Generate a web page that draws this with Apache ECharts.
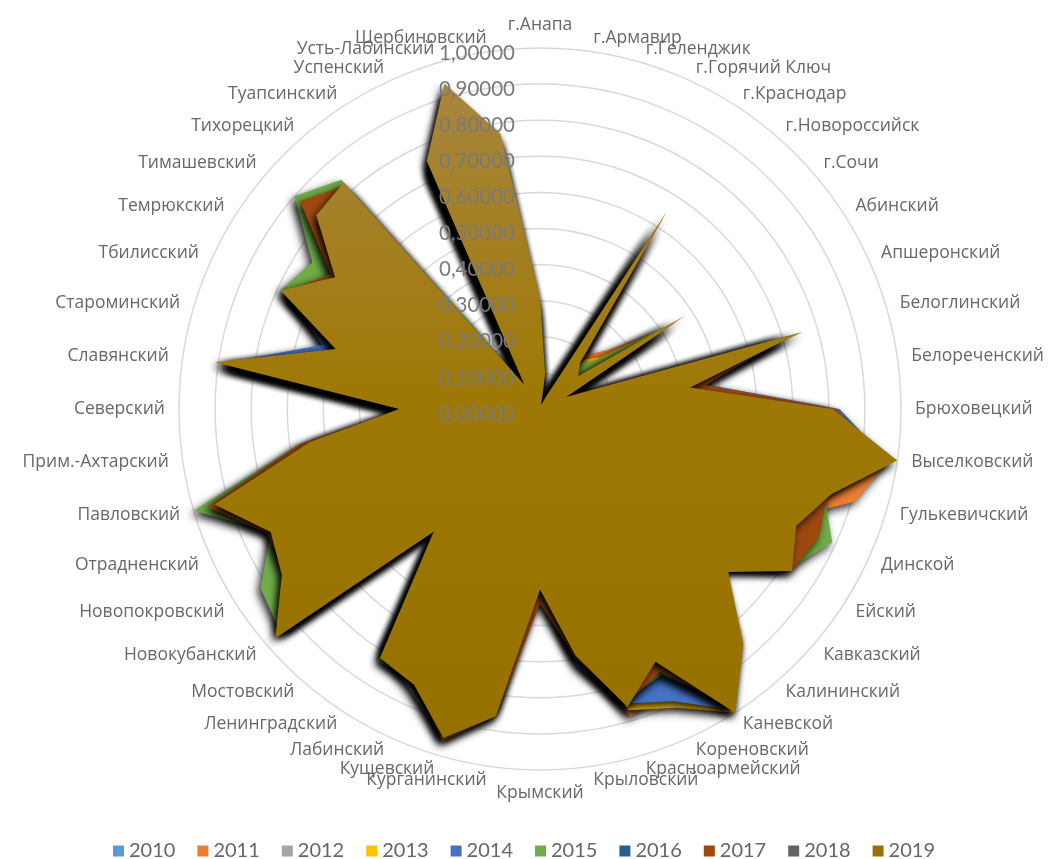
<!DOCTYPE html>
<html><head><meta charset="utf-8">
<script src="https://cdn.jsdelivr.net/npm/echarts@6/dist/echarts.min.js"></script>
<style>html,body{margin:0;padding:0;background:#fff}#c{width:1048px;height:859px}</style>
</head><body><div id="c"></div>
<script>
const categories = ['г.Анапа','г.Армавир','г.Геленджик','г.Горячий Ключ','г.Краснодар','г.Новороссийск','г.Сочи','Абинский','Апшеронский','Белоглинский','Белореченский','Брюховецкий','Выселковский','Гулькевичский','Динской','Ейский','Кавказский','Калининский','Каневской','Кореновский','Красноармейский','Крыловский','Крымский','Курганинский','Кущевский','Лабинский','Ленинградский','Мостовский','Новокубанский','Новопокровский','Отрадненский','Павловский','Прим.-Ахтарский','Северский','Славянский','Староминский','Тбилисский','Темрюкский','Тимашевский','Тихорецкий','Туапсинский','Успенский','Усть-Лабинский','Щербиновский'];
const years = ['2010','2011','2012','2013','2014','2015','2016','2017','2018','2019'];
const tickLabels = ['0,00000','0,10000','0,20000','0,30000','0,40000','0,50000','0,60000','0,70000','0,80000','0,90000','1,00000'];

const v2010 = [0.26,0.08,0.01,0.03,0.57,0.14,0.12,0.42,0.07,0.69,0.38,0.76,0.94,0.79,0.73,0.78,0.64,0.82,0.95,0.73,0.81,0.65,0.46,0.82,0.91,0.80,0.78,0.41,0.92,0.80,0.77,0.90,0.60,0.36,0.86,0.55,0.74,0.63,0.77,0.78,0.06,0.70,0.89,0.72];
const v2011 = [0.28,0.09,0.01,0.04,0.645,0.20,0.25,0.42,0.08,0.70,0.40,0.78,0.98,0.91,0.74,0.80,0.65,0.84,0.99,0.85,0.89,0.68,0.47,0.83,0.92,0.82,0.79,0.42,0.93,0.82,0.79,0.91,0.62,0.37,0.88,0.61,0.76,0.65,0.78,0.80,0.07,0.72,0.90,0.74];
const v2012 = [0.27,0.08,0.01,0.03,0.58,0.15,0.13,0.43,0.07,0.70,0.39,0.77,0.95,0.80,0.74,0.79,0.65,0.83,0.96,0.74,0.82,0.66,0.47,0.85,0.955,0.86,0.80,0.42,0.93,0.81,0.78,0.90,0.61,0.36,0.87,0.55,0.75,0.64,0.78,0.79,0.07,0.71,0.90,0.73];
const v2013 = [0.27,0.09,0.01,0.04,0.59,0.18,0.22,0.44,0.09,0.71,0.40,0.78,0.95,0.81,0.75,0.80,0.65,0.85,1.00,0.91,0.87,0.66,0.47,0.83,0.92,0.82,0.79,0.42,0.93,0.82,0.79,0.91,0.62,0.37,0.88,0.56,0.76,0.65,0.79,0.80,0.07,0.72,0.90,0.74];
const v2014 = [0.28,0.09,0.01,0.03,0.60,0.16,0.15,0.44,0.08,0.72,0.47,0.83,0.97,0.82,0.76,0.81,0.66,0.85,0.99,0.89,0.85,0.72,0.49,0.84,0.94,0.83,0.80,0.43,0.95,0.84,0.81,0.93,0.63,0.38,0.89,0.63,0.77,0.66,0.80,0.81,0.07,0.73,0.91,0.75];
const v2015 = [0.27,0.09,0.01,0.03,0.60,0.17,0.20,0.45,0.08,0.76,0.41,0.80,0.96,0.82,0.89,0.82,0.66,0.84,0.97,0.81,0.84,0.68,0.48,0.84,0.93,0.83,0.83,0.43,0.95,0.92,0.82,1.00,0.67,0.37,0.90,0.57,0.79,0.75,0.90,0.84,0.09,0.74,0.91,0.76];
const v2016 = [0.27,0.08,0.01,0.03,0.60,0.15,0.12,0.43,0.07,0.71,0.40,0.78,0.96,0.80,0.75,0.79,0.66,0.83,0.96,0.74,0.82,0.66,0.47,0.83,0.92,0.81,0.79,0.42,0.94,0.82,0.79,0.91,0.62,0.37,0.88,0.56,0.76,0.65,0.79,0.80,0.07,0.72,0.91,0.74];
const v2017 = [0.28,0.09,0.01,0.03,0.60,0.15,0.13,0.44,0.08,0.72,0.465,0.82,0.97,0.83,0.85,0.83,0.67,0.85,0.98,0.80,0.85,0.70,0.54,0.86,0.96,0.83,0.81,0.44,0.94,0.84,0.83,0.96,0.67,0.38,0.89,0.57,0.78,0.69,0.88,0.82,0.07,0.72,0.90,0.74];
const v2018 = [0.29,0.09,0.01,0.03,0.62,0.15,0.12,0.45,0.07,0.72,0.40,0.79,0.97,0.81,0.76,0.80,0.67,0.84,0.97,0.75,0.83,0.67,0.48,0.84,0.93,0.82,0.80,0.43,0.95,0.83,0.80,0.92,0.63,0.37,0.89,0.57,0.77,0.65,0.80,0.81,0.07,0.73,0.92,0.75];
const v2019 = [0.31,0.10,0.01,0.03,0.65,0.17,0.14,0.48,0.08,0.75,0.42,0.81,1.00,0.84,0.78,0.83,0.69,0.86,1.00,0.77,0.86,0.69,0.50,0.86,0.95,0.84,0.82,0.45,0.97,0.85,0.82,0.94,0.645,0.39,0.91,0.59,0.79,0.675,0.82,0.83,0.08,0.755,0.94,0.77];

const seriesValues = [v2010,v2011,v2012,v2013,v2014,v2015,v2016,v2017,v2018,v2019];
const colors = ['#5B9BD5','#ED7D31','#A5A5A5','#FFC000','#4472C4','#70AD47','#255E91','#9E480E','#636363','#997300'];

// ECharts radar runs counter-clockwise; reorder so categories run clockwise from the top
const order = [0];
for (let i = categories.length - 1; i >= 1; i--) order.push(i);
const reorder = arr => order.map(i => arr[i]);

const indicatorsBase = reorder(categories).map(n => ({ name: n, min: 0, max: 1 }));
const indicatorsLabels = reorder(categories).map((n, i) => i === 0
  ? { name: n, min: 0, max: 1, axisLabel: { show: true } }
  : { name: n, min: 0, max: 1 });

const chart = echarts.init(document.getElementById('c'));
const shadow = { shadowBlur: 9, shadowColor: 'rgba(0,0,0,0.85)', shadowOffsetX: -3, shadowOffsetY: 4 };

const series = years.map((y, k) => ({
  name: y,
  type: 'radar',
  radarIndex: 0,
  symbol: 'none',
  silent: true,
  color: colors[k],
  itemStyle: { color: colors[k] },
  lineStyle: { width: 0, opacity: 0 },
  areaStyle: Object.assign({
    opacity: 1,
    color: k === 9 ? new echarts.graphic.LinearGradient(0, 0, 0, 1, [
      { offset: 0, color: '#A8863E' },
      { offset: 0.45, color: '#9F7908' },
      { offset: 1, color: '#977100' }
    ]) : colors[k]
  }, shadow),
  data: [{ name: y, value: reorder(seriesValues[k]) }]
}));

chart.setOption({
  animation: false,
  backgroundColor: '#fff',
  legend: {
    data: years,
    top: 836,
    left: 'center',
    icon: 'rect',
    itemWidth: 11,
    itemHeight: 11,
    itemGap: 22,
    textStyle: { fontFamily: 'Lato', fontSize: 20, color: '#666' }
  },
  radar: [{
    center: [540, 409],
    radius: 361,
    startAngle: 90,
    shape: 'circle',
    splitNumber: 10,
    indicator: indicatorsBase,
    nameGap: 14,
    axisName: { color: '#686868', fontFamily: 'Open Sans', fontSize: 17.5 },
    splitLine: { lineStyle: { color: '#D9D9D9', width: 1.5 } },
    splitArea: { show: false },
    axisLine: { show: false },
    axisTick: { show: false },
    axisLabel: { show: false }
  }, {
    center: [540, 414],
    radius: 361,
    startAngle: 90,
    shape: 'circle',
    splitNumber: 10,
    z: 10,
    indicator: indicatorsLabels,
    axisName: { show: false },
    splitLine: { show: false },
    splitArea: { show: false },
    axisLine: { show: false },
    axisTick: { show: false },
    axisLabel: {
      show: false,
      margin: 25,
      fontFamily: 'Lato',
      fontSize: 20.5,
      color: '#7A7A7A',
      formatter: v => tickLabels[Math.round(v * 10)]
    }
  }],
  series: series
});
</script>
</body></html>
